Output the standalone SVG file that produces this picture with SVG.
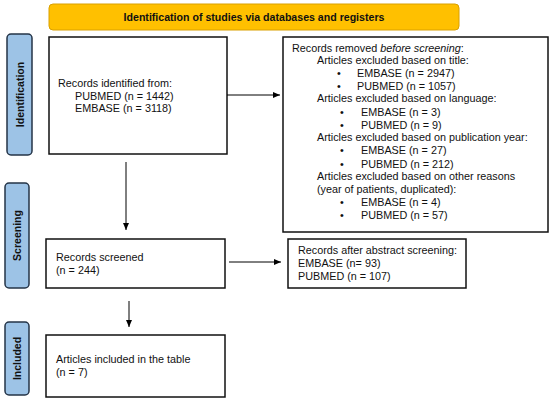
<svg xmlns="http://www.w3.org/2000/svg" width="550" height="400" viewBox="0 0 550 400">
<defs>
<marker id="ah" markerWidth="8" markerHeight="8" refX="7" refY="4" orient="auto" markerUnits="userSpaceOnUse">
<path d="M0,1 L7,4 L0,7 Z" fill="#000"/>
</marker>
<style>
text{font-family:"Liberation Sans",Arial,sans-serif;font-size:10.8px;fill:#111}
.box{fill:#fff;stroke:#111;stroke-width:1.5}
.tab{fill:#9DC3E6;stroke:#243447;stroke-width:1.5}
.tt{font-weight:bold;font-size:10.5px;text-anchor:middle}
.conn{stroke:#000;stroke-width:1;fill:none;marker-end:url(#ah)}
</style>
</defs>
<rect width="550" height="400" fill="#fff"/>
<g id="header">
<rect x="49" y="4" width="410" height="26" rx="4" fill="#FFC000" stroke="#D9A000" stroke-width="1"/>
<text x="254" y="21" style="font-weight:bold;font-size:10.6px" text-anchor="middle">Identification of studies via databases and registers</text>
</g>
<g id="tab-identification">
<rect class="tab" x="7" y="34" width="25" height="121" rx="4"/>
<text class="tt" transform="translate(23.5,94.5) rotate(-90)">Identification</text>
</g>
<g id="tab-screening">
<rect class="tab" x="5" y="183" width="24" height="105" rx="4"/>
<text class="tt" transform="translate(21,235.5) rotate(-90)">Screening</text>
</g>
<g id="tab-included">
<rect class="tab" x="5" y="322" width="24" height="73" rx="4"/>
<text class="tt" transform="translate(21,358.5) rotate(-90)">Included</text>
</g>
<g id="records-identified">
<rect class="box" x="49" y="37" width="178" height="117"/>
<text x="58" y="87">Records identified from:</text>
<text x="75" y="100">PUBMED (n = 1442)</text>
<text x="75" y="112">EMBASE (n = 3118)</text>
</g>
<g id="records-removed">
<rect class="box" x="283" y="37" width="265" height="195"/>
<text x="292" y="52">Records removed <tspan font-style="italic">before screening</tspan>:</text>
<text x="317" y="64">Articles excluded based on title:</text>
<text x="337" y="77">•</text><text x="357" y="77">EMBASE (n = 2947)</text>
<text x="337" y="90">•</text><text x="357" y="90">PUBMED (n = 1057)</text>
<text x="317" y="102">Articles excluded based on language:</text>
<text x="340" y="116">•</text><text x="361" y="116">EMBASE (n = 3)</text>
<text x="340" y="129">•</text><text x="361" y="129">PUBMED (n = 9)</text>
<text x="317" y="141">Articles excluded based on publication year:</text>
<text x="340" y="154">•</text><text x="361" y="154">EMBASE (n = 27)</text>
<text x="340" y="168">•</text><text x="361" y="168">PUBMED (n = 212)</text>
<text x="317" y="180">Articles excluded based on other reasons</text>
<text x="317" y="193">(year of patients, duplicated):</text>
<text x="340" y="206">•</text><text x="361" y="206">EMBASE (n = 4)</text>
<text x="340" y="219">•</text><text x="361" y="219">PUBMED (n = 57)</text>
</g>
<g id="records-screened">
<rect class="box" x="46" y="239" width="179" height="49"/>
<text x="56" y="261">Records screened</text>
<text x="56" y="274">(n = 244)</text>
</g>
<g id="records-after">
<rect class="box" x="288" y="239" width="178" height="49"/>
<text x="298" y="254">Records after abstract screening:</text>
<text x="298" y="267">EMBASE (n= 93)</text>
<text x="298" y="280">PUBMED (n = 107)</text>
</g>
<g id="articles-included">
<rect class="box" x="46" y="335" width="179" height="62"/>
<text x="56" y="363">Articles included in the table</text>
<text x="56" y="376">(n = 7)</text>
</g>
<g id="connectors">
<line class="conn" x1="227" y1="95" x2="280" y2="95"/>
<line class="conn" x1="126" y1="162" x2="126" y2="230"/>
<line class="conn" x1="229" y1="262" x2="281" y2="262"/>
<line class="conn" x1="129" y1="301" x2="129" y2="327"/>
</g>
</svg>
